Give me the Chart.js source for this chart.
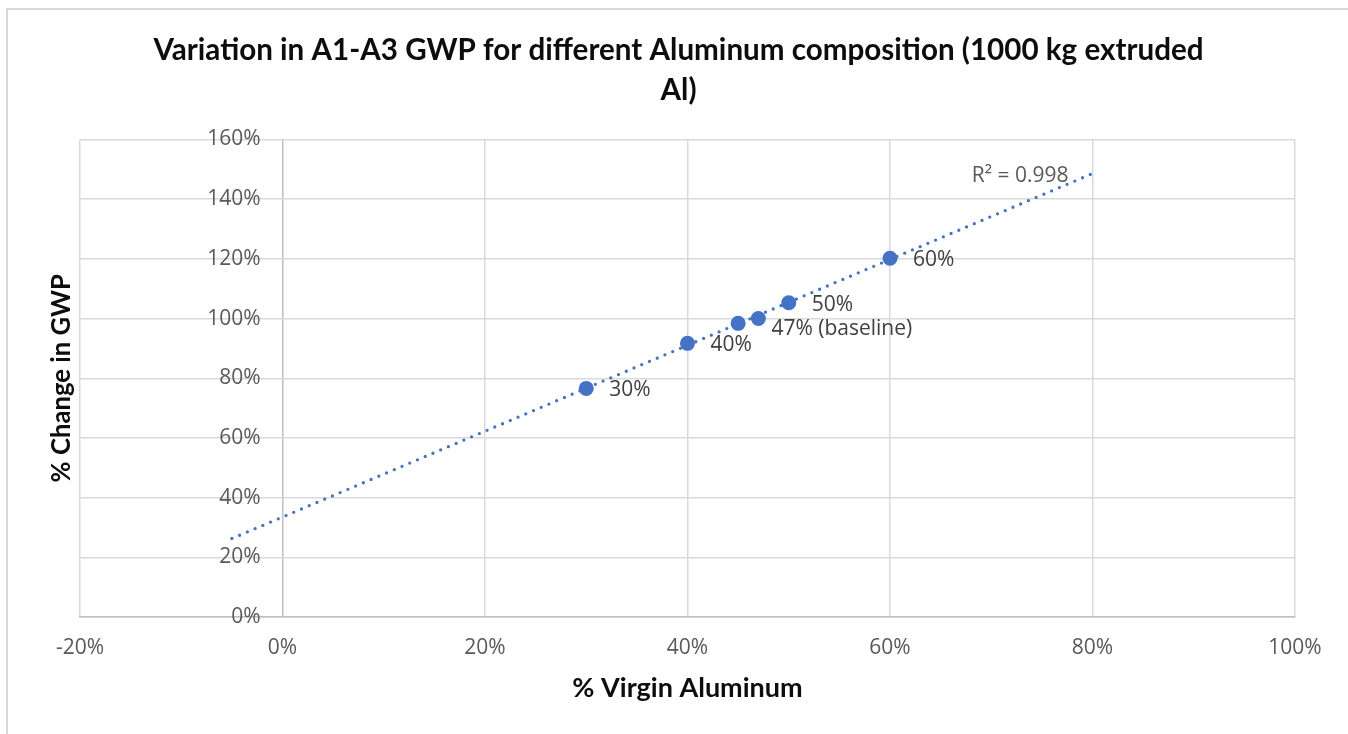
<!DOCTYPE html>
<html>
<head>
<meta charset="utf-8">
<script src="https://cdn.jsdelivr.net/npm/chart.js@4/dist/chart.umd.min.js"></script>
<style>
    html, body { margin: 0; padding: 0; background: #fff; }
    #wrap { position: relative; width: 1348px; height: 734px; }
    #frame {
        position: absolute; left: 6px; top: 8px; right: 0; bottom: 0;
        border-top: 2px solid #d9d9d9; border-left: 2px solid #d9d9d9;
        pointer-events: none;
    }
    canvas { position: absolute; left: 0; top: 0; }
</style>
</head>
<body>
<div id="wrap">
    <canvas id="gwpChart" width="1348" height="734"></canvas>
    <div id="frame"></div>
</div>
<script>
// 데이터 (% 단위)
const virginAl = [30, 40, 45, 47, 50, 60];
const gwpChange = [76.6, 91.7, 98.4, 100, 105.3, 120.2];
const pointLabels = ['30%', '40%', '', '47% (baseline)', '50%', '60%'];

// 추세선 (Excel 선형 추세선, 그림에서 읽은 양 끝)
const trendX = [-5, 80];
const trendY = [26.3, 148.6];
const trendLabel = 'R² = 0.998';

const xTicks = [-20, 0, 20, 40, 60, 80, 100];
const yTicks = [0, 20, 40, 60, 80, 100, 120, 140, 160];

const titleLines = [
    'Variation in A1-A3 GWP for different Aluminum composition (1000 kg extruded',
    'Al)'
];
const xTitle = '% Virgin Aluminum';
const yTitle = '% Change in GWP';

const blue = '#4472C4';
const gridColor = '#d9d9d9';
const axisColor = '#bfbfbf';

// 데이터 레이블 + R² + y축 제목
const labelPlugin = {
    id: 'labelPlugin',
    afterDatasetsDraw(chart) {
        const ctx = chart.ctx;
        ctx.save();
        ctx.font = '21px "Open Sans"';
        ctx.fillStyle = '#404040';
        ctx.textAlign = 'left';
        ctx.textBaseline = 'middle';
        const meta = chart.getDatasetMeta(0);
        meta.data.forEach((pt, i) => {
            const text = pointLabels[i];
            if (!text) return;
            // baseline 레이블은 살짝 아래로 옮겨져 있음
            const dx = text.indexOf('baseline') >= 0 ? 13 : 23;
            const dy = text.indexOf('baseline') >= 0 ? 10 : 2;
            ctx.fillText(text, pt.x + dx, pt.y + dy);
        });

        // R²
        const tMeta = chart.getDatasetMeta(1);
        const end = tMeta.data[tMeta.data.length - 1];
        ctx.fillStyle = '#595959';
        ctx.textAlign = 'right';
        ctx.fillText(trendLabel, end.x - 24, end.y + 2);

        // y축 제목
        const area = chart.chartArea;
        ctx.translate(62, (area.top + area.bottom) / 2);
        ctx.rotate(-Math.PI / 2);
        ctx.font = 'bold 25.7px Lato';
        ctx.fillStyle = '#0d0d0d';
        ctx.textAlign = 'center';
        ctx.fillText(yTitle, 0, 0);
        ctx.restore();
    }
};

function pct(v) {
    return v + '%';
}

document.addEventListener('DOMContentLoaded', () => {
    const ctx = document.getElementById('gwpChart').getContext('2d');
    new Chart(ctx, {
        type: 'scatter',
        data: {
            datasets: [{
                label: 'GWP',
                data: virginAl.map((x, i) => ({ x: x, y: gwpChange[i] })),
                backgroundColor: blue,
                borderColor: blue,
                pointRadius: 7.5,
                pointBorderWidth: 0
            }, {
                label: 'Linear',
                type: 'line',
                data: trendX.map((x, i) => ({ x: x, y: trendY[i] })),
                borderColor: blue,
                borderWidth: 3.3,
                borderDash: [0, 8.4],
                borderCapStyle: 'round',
                pointRadius: 0,
                fill: false
            }]
        },
        options: {
            responsive: false,
            animation: false,
            layout: {
                padding: { left: 62, right: 53, top: 0, bottom: 30 }
            },
            plugins: {
                legend: { display: false },
                tooltip: { enabled: false },
                title: {
                    display: true,
                    text: titleLines,
                    color: '#0d0d0d',
                    font: { family: 'Lato', size: 29.6, weight: 'bold', lineHeight: 1.36 },
                    padding: { top: 30, bottom: 29 }
                }
            },
            scales: {
                x: {
                    type: 'linear',
                    min: -20,
                    max: 100,
                    afterBuildTicks: (scale) => {
                        scale.ticks = xTicks.map(v => ({ value: v }));
                    },
                    afterFit: (scale) => { scale.height = 87; },
                    grid: {
                        // x = 0 세로축은 조금 더 진하게
                        color: (c) => (c.tick && c.tick.value === 0 ? axisColor : gridColor),
                        lineWidth: 1.5,
                        drawTicks: false
                    },
                    border: { color: axisColor, width: 1.5 },
                    ticks: {
                        padding: 18,
                        color: '#595959',
                        font: { family: 'Open Sans', size: 21 },
                        callback: pct
                    },
                    title: {
                        display: true,
                        text: xTitle,
                        color: '#0d0d0d',
                        font: { family: 'Lato', size: 27, weight: 'bold', lineHeight: 1.2 },
                        padding: { top: 0, bottom: 0 }
                    }
                },
                y: {
                    type: 'linear',
                    // 레이블이 0% 축 바로 왼쪽에 오도록 배치
                    position: { x: -2.15 },
                    min: 0,
                    max: 160,
                    afterBuildTicks: (scale) => {
                        scale.ticks = yTicks.map(v => ({ value: v }));
                    },
                    grid: { color: gridColor, lineWidth: 1.5, drawTicks: false },
                    border: { display: false },
                    ticks: {
                        color: '#595959',
                        font: { family: 'Open Sans', size: 21 },
                        callback: pct
                    }
                },
                // 왼쪽 여백용 빈 축 (y축 제목 자리)
                yPad: {
                    type: 'linear',
                    position: 'left',
                    min: 0,
                    max: 1,
                    afterFit: (scale) => { scale.width = 18; },
                    grid: { display: false },
                    border: { display: false },
                    ticks: { display: false }
                }
            }
        },
        plugins: [labelPlugin]
    });
});
</script>
</body>
</html>
